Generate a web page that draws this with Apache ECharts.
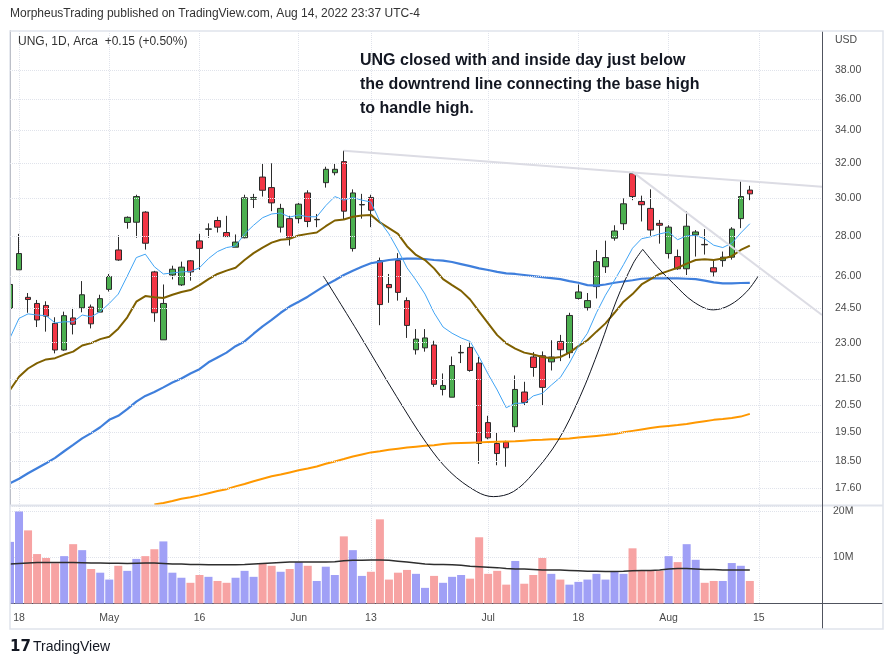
<!DOCTYPE html>
<html><head><meta charset="utf-8">
<script src="https://cdn.jsdelivr.net/npm/echarts@6/dist/echarts.min.js"></script>
<style>html,body{margin:0;padding:0;background:#fff;}#c{width:893px;height:665px;}</style>
</head><body><div id="c"></div>
<script>
// Trading days (plus empty future days to the right edge of the chart)
const dates = [
 '2022-04-14','2022-04-18','2022-04-19','2022-04-20','2022-04-21','2022-04-22','2022-04-25','2022-04-26','2022-04-27','2022-04-28','2022-04-29',
 '2022-05-02','2022-05-03','2022-05-04','2022-05-05','2022-05-06','2022-05-09','2022-05-10','2022-05-11','2022-05-12','2022-05-13',
 '2022-05-16','2022-05-17','2022-05-18','2022-05-19','2022-05-20','2022-05-23','2022-05-24','2022-05-25','2022-05-26','2022-05-27','2022-05-31',
 '2022-06-01','2022-06-02','2022-06-03','2022-06-06','2022-06-07','2022-06-08','2022-06-09','2022-06-10','2022-06-13','2022-06-14','2022-06-15',
 '2022-06-16','2022-06-17','2022-06-21','2022-06-22','2022-06-23','2022-06-24','2022-06-27','2022-06-28','2022-06-29','2022-06-30',
 '2022-07-01','2022-07-05','2022-07-06','2022-07-07','2022-07-08','2022-07-11','2022-07-12','2022-07-13','2022-07-14','2022-07-15',
 '2022-07-18','2022-07-19','2022-07-20','2022-07-21','2022-07-22','2022-07-25','2022-07-26','2022-07-27','2022-07-28','2022-07-29',
 '2022-08-01','2022-08-02','2022-08-03','2022-08-04','2022-08-05','2022-08-08','2022-08-09','2022-08-10','2022-08-11','2022-08-12',
 '2022-08-15','2022-08-16','2022-08-17','2022-08-18','2022-08-19','2022-08-22','2022-08-23','2022-08-24'
];
// [open, high, low, close]
const ohlc = [
 [24.5,25.65,24.45,25.6],[26.3,28.1,26.3,27.1],[25.0,25.2,24.3,24.9],[24.72,24.88,23.67,23.98],[24.63,24.82,23.47,24.15],
 [23.83,24.1,22.55,22.69],[22.69,24.35,22.66,24.17],[24.07,24.52,23.35,23.79],[24.52,25.76,24.32,25.12],[24.56,24.67,23.61,23.81],
 [24.33,25.12,24.32,24.94],[25.37,26.1,25.27,25.98],[27.28,28.03,26.74,26.78],[28.7,29.02,28.37,28.97],[28.71,30.2,27.9,30.1],
 [29.25,29.3,27.3,27.62],[26.2,26.25,23.9,24.3],[23.12,25.6,23.12,24.72],[26.05,26.5,25.84,26.33],[25.58,26.7,25.53,26.43],
 [26.74,26.78,25.78,26.2],[27.74,28.1,26.3,27.36],[28.34,28.65,27.9,28.36],[28.8,29.0,28.17,28.45],[28.17,29.05,27.96,27.96],
 [27.42,28.07,27.42,27.68],[27.9,30.2,27.87,30.03],[29.95,30.25,29.47,30.05],[31.2,31.96,30.1,30.45],[30.6,32.0,29.3,29.75],
 [28.45,29.7,28.17,29.45],[28.9,29.05,27.5,27.9],[28.9,29.75,28.65,29.68],[30.3,30.45,28.45,28.75],[28.84,29.15,28.45,28.86],
 [30.88,31.8,30.6,31.65],[31.45,32.0,31.3,31.65],[32.1,32.75,28.85,29.3],[27.35,30.5,27.2,30.3],[29.64,30.25,28.9,29.66],
 [30.05,30.2,28.45,29.35],[26.75,26.9,23.75,24.67],[25.6,26.1,24.75,25.45],[26.75,27.12,24.85,25.23],[24.85,25.0,23.2,23.74],
 [22.7,23.58,22.5,23.15],[22.78,23.58,22.62,23.2],[22.9,23.08,21.2,21.3],[21.1,21.73,20.87,21.25],[20.8,22.42,20.8,22.05],
 [22.57,22.9,22.15,22.59],[22.8,23.0,21.8,21.85],[22.15,22.4,18.4,19.1],[19.85,20.1,19.25,19.3],[19.1,19.5,18.35,18.75],
 [19.15,19.2,18.3,18.95],[19.7,21.65,19.5,21.1],[21.0,21.4,20.5,20.6],[22.4,22.6,21.6,21.97],[22.45,22.63,20.5,21.18],
 [22.2,23.1,21.85,22.4],[23.05,23.33,22.23,22.7],[22.58,24.3,22.35,24.18],[24.95,25.6,24.9,25.25],[24.53,25.2,24.4,24.85],
 [25.5,27.28,24.95,26.7],[26.45,27.75,26.15,26.9],[27.88,28.55,27.75,28.25],[28.63,30.0,28.3,29.7],[31.4,31.5,29.9,30.1],
 [29.83,30.15,28.75,29.65],[29.45,30.5,28.0,28.3],[28.65,28.83,27.6,28.55],[27.1,28.55,26.85,28.45],[26.95,27.3,26.3,26.35],
 [26.35,29.3,26.05,28.5],[28.05,28.3,26.95,28.2],[27.56,28.35,27.05,27.54],[26.4,26.8,25.98,26.2],[26.75,27.2,26.45,26.92],
 [26.92,28.45,26.8,28.35],[28.9,30.95,28.4,30.1],[30.46,30.7,29.9,30.25]
];
// volume in millions
const volume = [
 13.4,20.0,15.9,10.75,9.9,8.75,10.3,12.9,11.6,7.5,
 6.7,5.2,8.2,7.1,9.7,10.3,11.8,13.5,6.7,5.6,
 4.5,6.2,5.8,4.9,4.5,5.6,7.1,5.8,8.8,8.2,
 6.9,7.5,9.0,8.2,4.9,8.0,6.2,14.6,11.6,6.0,
 6.9,18.3,5.2,6.7,7.3,6.45,3.4,6.0,4.5,5.8,
 6.2,5.4,14.4,6.45,7.1,4.1,9.25,4.3,6.2,9.9,
 6.45,5.2,4.1,4.7,5.2,6.45,5.2,6.9,6.45,12.0,
 7.1,7.1,7.1,10.3,9.0,12.9,9.5,4.5,4.9,4.9,
 8.8,8.2,4.9
];
const volMA = [
 8.6,8.7,8.8,8.9,8.9,8.9,8.9,8.9,8.85,8.8,8.8,
 8.75,8.75,8.7,8.75,8.8,8.8,8.7,8.6,8.6,8.5,8.5,8.45,
 8.4,8.4,8.45,8.5,8.6,8.7,8.8,8.9,9.0,9.0,9.0,
 9.0,9.0,9.1,9.3,9.4,9.4,9.45,9.45,9.4,9.2,9.0,
 8.8,8.6,8.5,8.5,8.4,8.3,8.1,8.0,7.9,7.8,7.6,
 7.5,7.5,7.4,7.3,7.3,7.3,7.2,7.1,7.0,7.0,6.95,
 6.95,7.0,7.1,7.2,7.2,7.3,7.5,7.6,7.6,7.5,7.4,
 7.4,7.3,7.3,7.3,7.3
];
const ma10 = [
 23.2,24.05,24.25,24.2,24.17,23.85,23.9,23.9,24.2,24.12,
 24.35,24.72,25.15,26.0,26.9,27.07,26.45,26.1,26.15,26.2,
 26.22,26.4,26.85,27.2,27.4,27.48,28.1,28.55,28.95,29.15,
 29.2,28.98,29.1,29.0,29.0,29.6,30.1,29.9,30.05,29.9,
 29.8,28.75,28.1,27.28,26.4,25.8,25.15,24.3,23.67,23.4,
 23.2,23.05,22.4,21.7,21.08,20.4,20.57,20.57,20.85,20.95,
 21.27,21.57,22.15,22.85,23.4,24.3,25.1,25.8,26.55,27.37,
 27.85,27.95,28.1,28.2,27.8,28.0,28.02,27.85,27.52,27.4,
 27.62,28.15,28.63
];
const ma20 = [
 21.08,21.6,21.93,22.15,22.3,22.35,22.5,22.62,22.88,22.98,
 23.15,23.25,23.6,24.1,24.8,25.06,25.0,24.97,25.12,25.25,
 25.34,25.57,25.85,26.1,26.26,26.4,26.78,27.12,27.4,27.65,
 27.8,27.84,28.02,28.1,28.17,28.5,28.8,28.85,29.0,29.07,
 29.1,28.7,28.4,28.1,27.47,27.03,26.78,26.37,25.85,25.57,
 25.3,24.9,24.35,23.83,23.32,22.97,22.75,22.58,22.5,22.4,
 22.35,22.4,22.58,22.85,23.1,23.47,23.83,24.3,24.8,25.15,
 25.6,25.85,26.1,26.25,26.4,26.6,26.78,26.82,26.78,26.85,
 26.97,27.28,27.5
];
const ma50 = [
 17.75,17.9,18.08,18.25,18.42,18.6,18.83,19.05,19.28,19.47,
 19.68,19.95,20.1,20.35,20.63,20.85,21.0,21.18,21.37,21.53,
 21.73,21.9,22.18,22.38,22.58,22.85,23.05,23.38,23.7,23.98,
 24.3,24.58,24.8,25.03,25.3,25.57,25.8,26.05,26.26,26.45,
 26.62,26.7,26.78,26.82,26.85,26.85,26.83,26.78,26.75,26.68,
 26.58,26.48,26.37,26.29,26.2,26.13,26.1,26.05,26.0,25.95,
 25.9,25.85,25.76,25.68,25.57,25.55,25.6,25.68,25.74,25.8,
 25.87,25.89,25.89,25.89,25.89,25.87,25.85,25.78,25.7,25.65,
 25.65,25.67,25.68
];
const ma200 = [
 null,null,null,null,null,null,null,null,null,null,null,null,null,null,null,null,
 17.07,17.12,17.18,17.25,17.3,17.36,17.43,17.5,17.56,17.65,
 17.73,17.82,17.9,17.98,18.04,18.11,18.18,18.24,18.31,18.4,
 18.48,18.56,18.65,18.72,18.79,18.83,18.88,18.92,18.96,18.99,
 19.02,19.04,19.08,19.11,19.12,19.13,19.14,19.15,19.16,19.17,
 19.18,19.2,19.22,19.23,19.25,19.26,19.28,19.31,19.34,19.37,
 19.4,19.44,19.5,19.55,19.6,19.65,19.7,19.73,19.76,19.8,
 19.85,19.9,19.95,19.98,20.02,20.07,20.17
];
// hand-drawn cup & handle (x in bar-index units, y in price)
const cupX = [34.73,38.43,42.86,46.19,48.77,51.73,53.57,55.79,58.0,60.77,63.18,65.39,67.24,69.08,70.13];
const cupY = [26.0,23.54,20.82,19.1,18.13,17.48,17.32,17.48,18.08,19.22,20.82,22.83,24.88,26.62,27.31];
const handleX = [70.13,71.7,73.52,75.74,77.95,79.8,81.65,82.94];
const handleY = [27.31,26.46,25.65,24.8,24.43,24.65,25.26,26.0];
// trend lines [date, price]
const trendBase = [['2022-06-08',32.75],['2022-08-24',30.65]];
const trendHandle = [['2022-07-26',31.5],['2022-08-24',24.2]];
// axis ticks
const priceTicks = [38,36,34,32,30,28,26,24.5,23,21.5,20.5,19.5,18.5,17.6];
const tickDates = ['2022-04-18','2022-05-02','2022-05-16','2022-06-01','2022-06-13','2022-07-01','2022-07-18','2022-08-01','2022-08-15'];
const tickLabels = ['18','May','16','Jun','13','Jul','18','Aug','15'];

const labelMap = {};
tickDates.forEach((d,i)=>labelMap[d]=tickLabels[i]);
const showTick = (idx, val) => labelMap[val] !== undefined;

const UP='#4caf50', DOWN='#f23645', EDGE='#2b2b2b';
const VUP='#a0a0f6', VDOWN='#f7a3a3';
const GRIDC='#e0e3eb', TXT='#4a4a4a';
const FONT='"Liberation Sans", Arial, sans-serif';

const candleData = ohlc.map(r=>[r[0],r[3],r[2],r[1]]);
const volData = volume.map((v,i)=>({value:v, itemStyle:{color: ohlc[i][3]>=ohlc[i][0]?VUP:VDOWN}}));
const cupData = cupX.map((x,i)=>[x,cupY[i]]);
const handleData = handleX.map((x,i)=>[x,handleY[i]]);

const tickLines = priceTicks.map(v=>({yAxis:v, label:{formatter: Number(v).toFixed(2)}}));
const trendStyle = {color:'#dcdce4', width:2, type:'solid'};
const trendLines = [
  [{coord:trendBase[0], lineStyle:trendStyle, label:{show:false}},{coord:trendBase[1]}],
  [{coord:trendHandle[0], lineStyle:trendStyle, label:{show:false}},{coord:trendHandle[1]}]
];

const chart = echarts.init(document.getElementById('c'), null, {renderer:'canvas'});
const option = {
  animation:false,
  backgroundColor:'#fff',
  textStyle:{fontFamily:FONT},
  grid:[
    {left:10, right:71, top:31, height:474},
    {left:10, right:71, top:506, height:97.5}
  ],
  xAxis:[
    {type:'category', gridIndex:0, data:dates, boundaryGap:false,
     axisLine:{show:false}, axisTick:{show:false}, axisLabel:{show:false},
     splitLine:{show:true, interval:showTick, lineStyle:{color:GRIDC, type:'dotted'}}},
    {type:'category', gridIndex:1, data:dates, boundaryGap:false,
     axisLine:{show:true, lineStyle:{color:'#50535e'}}, axisTick:{show:false},
     axisLabel:{interval:showTick, formatter:v=>labelMap[v]||'', color:TXT, fontSize:10.5, margin:9, fontFamily:FONT},
     splitLine:{show:true, interval:showTick, lineStyle:{color:GRIDC, type:'dotted'}}},
    {type:'value', gridIndex:0, min:0, max:dates.length-1, show:false}
  ],
  yAxis:[
    {type:'log', gridIndex:0, min:17.055, max:40.83, position:'right',
     axisLine:{show:true, lineStyle:{color:'#50535e'}}, axisTick:{show:false},
     axisLabel:{show:false}, splitLine:{show:false}},
    {type:'value', gridIndex:1, min:0, max:21.2, interval:10, position:'right',
     axisLine:{show:true, lineStyle:{color:'#50535e'}}, axisTick:{show:false},
     axisLabel:{formatter:v=>(v===10||v===20)?v+'M':'', color:TXT, fontSize:10.5, margin:11, fontFamily:FONT},
     splitLine:{show:true, lineStyle:{color:GRIDC, type:'dotted'}}}
  ],
  series:[
    {type:'candlestick', name:'UNG', xAxisIndex:0, yAxisIndex:0, data:candleData, barWidth:6, clip:true,
     itemStyle:{color:UP, color0:DOWN, borderColor:EDGE, borderColor0:EDGE, borderColorDoji:EDGE, borderWidth:1}},
    {type:'line', name:'MA200', xAxisIndex:0, yAxisIndex:0, data:ma200, symbol:'none',
     lineStyle:{color:'#ff9800', width:2}},
    {type:'line', name:'MA50', xAxisIndex:0, yAxisIndex:0, data:ma50, symbol:'none',
     lineStyle:{color:'#3f7fdc', width:2.2}},
    {type:'line', name:'MA20', xAxisIndex:0, yAxisIndex:0, data:ma20, symbol:'none',
     lineStyle:{color:'#7f6000', width:2}},
    {type:'line', name:'MA10', xAxisIndex:0, yAxisIndex:0, data:ma10, symbol:'none', clip:false,
     lineStyle:{color:'#42a5f5', width:1},
     markLine:{silent:true, symbol:['none','none'], animation:false,
       lineStyle:{color:GRIDC, type:'dotted', width:1},
       label:{show:true, position:'end', distance:13, color:TXT, fontSize:10.5, fontFamily:FONT},
       emphasis:{disabled:true},
       data: tickLines.concat(trendLines)}},
    {type:'line', name:'cup', xAxisIndex:2, yAxisIndex:0, data:cupData, symbol:'none', smooth:0.35,
     lineStyle:{color:'#131722', width:1}},
    {type:'line', name:'handle', xAxisIndex:2, yAxisIndex:0, data:handleData, symbol:'none', smooth:0.35,
     lineStyle:{color:'#131722', width:1}},
    {type:'bar', name:'Volume', xAxisIndex:1, yAxisIndex:1, data:volData, barWidth:8},
    {type:'line', name:'VolMA', xAxisIndex:1, yAxisIndex:1, data:volMA, symbol:'none',
     lineStyle:{color:'#2e2e2e', width:1.5}}
  ],
  graphic:[
    {type:'rect', shape:{x:0, y:28, width:10, height:604}, style:{fill:'#fff'}, z:50, silent:true},
    {type:'rect', shape:{x:10, y:31, width:873, height:598}, style:{fill:'none', stroke:GRIDC, lineWidth:1.5}, z:51, silent:true},
    {type:'line', shape:{x1:10, y1:505.5, x2:883, y2:505.5}, style:{stroke:GRIDC, lineWidth:2}, z:5, silent:true},
    {type:'line', shape:{x1:822.5, y1:31, x2:822.5, y2:629}, style:{stroke:'#50535e', lineWidth:1}, z:6, silent:true},
    {type:'line', shape:{x1:822, y1:603.5, x2:883, y2:603.5}, style:{stroke:'#50535e', lineWidth:1}, z:6, silent:true},
    {type:'text', x:10, y:14, style:{text:'MorpheusTrading published on TradingView.com, Aug 14, 2022 23:37 UTC-4', font:'12px '+FONT, fill:'#333', verticalAlign:'middle'}, z:52},
    {type:'text', x:18, y:42, style:{text:'UNG, 1D, Arca  +0.15 (+0.50%)', font:'12px '+FONT, fill:'#333', verticalAlign:'middle'}, z:52},
    {type:'text', x:835, y:40, style:{text:'USD', font:'10.5px '+FONT, fill:TXT, verticalAlign:'middle'}, z:52},
    {type:'text', x:360, y:49, style:{text:'UNG closed with and inside day just below\nthe downtrend line connecting the base high\nto handle high.', font:'bold 16px '+FONT, fill:'#131722', lineHeight:24}, z:52},
    {type:'text', x:10, y:647, style:{text:'17', font:'bold 15px "DejaVu Sans", sans-serif', fill:'#131722', verticalAlign:'middle'}, z:52},
    {type:'text', x:33, y:647, style:{text:'TradingView', font:'14px '+FONT, fill:'#131722', verticalAlign:'middle'}, z:52}
  ]
};
chart.setOption(option);
</script>
</body></html>
